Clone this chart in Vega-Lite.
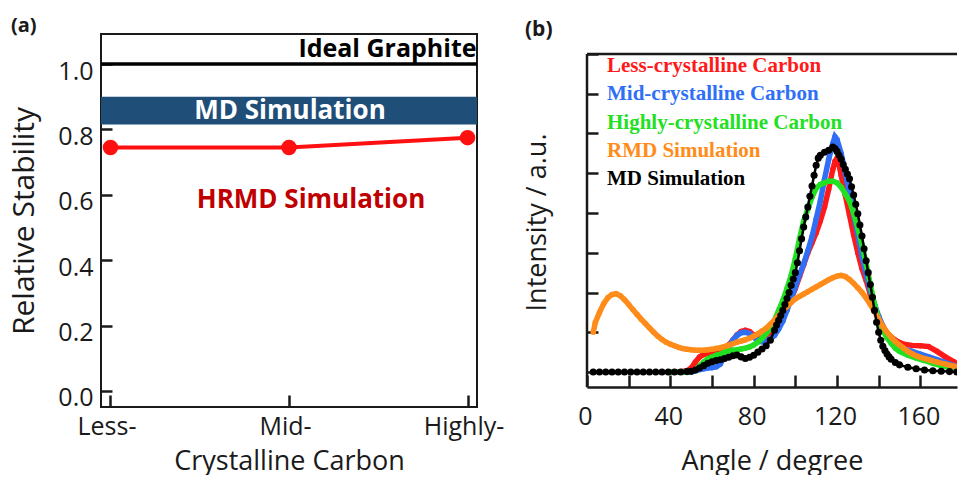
{
  "$schema": "https://vega.github.io/schema/vega-lite/v6.json",
  "background": "white",
  "padding": {"left": 8, "top": 15, "right": 0, "bottom": 0},
  "spacing": 110,
  "bounds": "flush",
  "config": {
    "view": {"stroke": null},
    "font": "Open Sans",
    "axis": {"labelFont": "Open Sans", "titleFont": "Open Sans", "labelColor": "#1a1a1a", "titleColor": "#1a1a1a", "titleFontWeight": "normal", "grid": false, "tickColor": "#1a1a1a", "domainColor": "#1a1a1a"}
  },
  "datasets": {
    "stability": [
      {"cat": "Less-", "v": 0.745},
      {"cat": "Mid-", "v": 0.745},
      {"cat": "Highly-", "v": 0.775}
    ],
    "xrd": [
      {"s":"L","a":40,"i":0},{"s":"L","a":44,"i":0},{"s":"L","a":48,"i":0.03},{"s":"L","a":50,"i":0.1},{"s":"L","a":52,"i":0.25},{"s":"L","a":54,"i":0.38},{"s":"L","a":56,"i":0.44},{"s":"L","a":58,"i":0.47},{"s":"L","a":60,"i":0.5},{"s":"L","a":62,"i":0.53},{"s":"L","a":64,"i":0.56},{"s":"L","a":66,"i":0.6},{"s":"L","a":68,"i":0.68},{"s":"L","a":70,"i":0.8},{"s":"L","a":72,"i":0.93},{"s":"L","a":74,"i":1.02},{"s":"L","a":76,"i":1.05},{"s":"L","a":78,"i":1.02},{"s":"L","a":80,"i":0.93},{"s":"L","a":82,"i":0.87},{"s":"L","a":84,"i":0.84},{"s":"L","a":86,"i":0.86},{"s":"L","a":88,"i":0.95},{"s":"L","a":90,"i":1.08},{"s":"L","a":92,"i":1.25},{"s":"L","a":94,"i":1.45},{"s":"L","a":96,"i":1.65},{"s":"L","a":98,"i":1.85},{"s":"L","a":100,"i":2.1},{"s":"L","a":102,"i":2.4},{"s":"L","a":104,"i":2.7},{"s":"L","a":106,"i":3.0},{"s":"L","a":108,"i":3.25},{"s":"L","a":110,"i":3.5},{"s":"L","a":112,"i":3.8},{"s":"L","a":114,"i":4.15},{"s":"L","a":116,"i":4.6},{"s":"L","a":118,"i":5.1},{"s":"L","a":119,"i":5.3},{"s":"L","a":120,"i":5.38},{"s":"L","a":121,"i":5.2},{"s":"L","a":122,"i":4.95},{"s":"L","a":124,"i":4.45},{"s":"L","a":126,"i":3.95},{"s":"L","a":128,"i":3.45},{"s":"L","a":130,"i":3.0},{"s":"L","a":132,"i":2.6},{"s":"L","a":134,"i":2.3},{"s":"L","a":136,"i":1.95},{"s":"L","a":138,"i":1.65},{"s":"L","a":140,"i":1.38},{"s":"L","a":142,"i":1.15},{"s":"L","a":144,"i":0.98},{"s":"L","a":146,"i":0.88},{"s":"L","a":148,"i":0.8},{"s":"L","a":150,"i":0.74},{"s":"L","a":152,"i":0.7},{"s":"L","a":156,"i":0.67},{"s":"L","a":160,"i":0.66},{"s":"L","a":164,"i":0.64},{"s":"L","a":168,"i":0.52},{"s":"L","a":172,"i":0.38},{"s":"L","a":176,"i":0.26},{"s":"L","a":177.5,"i":0.21},
      {"s":"M","a":40,"i":0},{"s":"M","a":46,"i":0},{"s":"M","a":50,"i":0},{"s":"M","a":52,"i":0.03},{"s":"M","a":54,"i":0.06},{"s":"M","a":56,"i":0.08},{"s":"M","a":58,"i":0.1},{"s":"M","a":60,"i":0.11},{"s":"M","a":62,"i":0.13},{"s":"M","a":64,"i":0.2},{"s":"M","a":66,"i":0.4},{"s":"M","a":68,"i":0.62},{"s":"M","a":70,"i":0.8},{"s":"M","a":72,"i":0.92},{"s":"M","a":74,"i":0.99},{"s":"M","a":76,"i":1.0},{"s":"M","a":78,"i":0.97},{"s":"M","a":80,"i":0.88},{"s":"M","a":82,"i":0.78},{"s":"M","a":84,"i":0.76},{"s":"M","a":86,"i":0.78},{"s":"M","a":88,"i":0.83},{"s":"M","a":90,"i":0.92},{"s":"M","a":92,"i":1.08},{"s":"M","a":94,"i":1.28},{"s":"M","a":96,"i":1.55},{"s":"M","a":98,"i":1.85},{"s":"M","a":100,"i":2.15},{"s":"M","a":102,"i":2.45},{"s":"M","a":104,"i":2.72},{"s":"M","a":106,"i":3.05},{"s":"M","a":108,"i":3.4},{"s":"M","a":110,"i":3.85},{"s":"M","a":112,"i":4.3},{"s":"M","a":114,"i":4.85},{"s":"M","a":116,"i":5.35},{"s":"M","a":118,"i":5.75},{"s":"M","a":119,"i":5.92},{"s":"M","a":120,"i":5.85},{"s":"M","a":122,"i":5.5},{"s":"M","a":124,"i":5.0},{"s":"M","a":126,"i":4.5},{"s":"M","a":128,"i":3.95},{"s":"M","a":130,"i":3.45},{"s":"M","a":132,"i":2.9},{"s":"M","a":134,"i":2.45},{"s":"M","a":136,"i":2.05},{"s":"M","a":138,"i":1.7},{"s":"M","a":140,"i":1.4},{"s":"M","a":142,"i":1.15},{"s":"M","a":144,"i":0.95},{"s":"M","a":146,"i":0.8},{"s":"M","a":148,"i":0.7},{"s":"M","a":150,"i":0.63},{"s":"M","a":152,"i":0.58},{"s":"M","a":156,"i":0.52},{"s":"M","a":160,"i":0.45},{"s":"M","a":164,"i":0.38},{"s":"M","a":168,"i":0.31},{"s":"M","a":172,"i":0.24},{"s":"M","a":176,"i":0.16},{"s":"M","a":177.5,"i":0.13},
      {"s":"H","a":40,"i":0},{"s":"H","a":46,"i":0},{"s":"H","a":50,"i":0.01},{"s":"H","a":52,"i":0.05},{"s":"H","a":54,"i":0.15},{"s":"H","a":56,"i":0.25},{"s":"H","a":58,"i":0.33},{"s":"H","a":60,"i":0.38},{"s":"H","a":62,"i":0.42},{"s":"H","a":64,"i":0.45},{"s":"H","a":66,"i":0.5},{"s":"H","a":68,"i":0.53},{"s":"H","a":70,"i":0.55},{"s":"H","a":72,"i":0.56},{"s":"H","a":74,"i":0.58},{"s":"H","a":76,"i":0.6},{"s":"H","a":78,"i":0.63},{"s":"H","a":80,"i":0.68},{"s":"H","a":82,"i":0.75},{"s":"H","a":84,"i":0.85},{"s":"H","a":86,"i":0.97},{"s":"H","a":88,"i":1.1},{"s":"H","a":90,"i":1.3},{"s":"H","a":92,"i":1.55},{"s":"H","a":94,"i":1.8},{"s":"H","a":96,"i":2.1},{"s":"H","a":98,"i":2.43},{"s":"H","a":100,"i":2.85},{"s":"H","a":102,"i":3.35},{"s":"H","a":104,"i":3.8},{"s":"H","a":106,"i":4.1},{"s":"H","a":108,"i":4.4},{"s":"H","a":110,"i":4.62},{"s":"H","a":112,"i":4.72},{"s":"H","a":114,"i":4.76},{"s":"H","a":116,"i":4.8},{"s":"H","a":118,"i":4.8},{"s":"H","a":120,"i":4.76},{"s":"H","a":122,"i":4.65},{"s":"H","a":124,"i":4.48},{"s":"H","a":126,"i":4.3},{"s":"H","a":128,"i":4.0},{"s":"H","a":130,"i":3.62},{"s":"H","a":132,"i":3.2},{"s":"H","a":134,"i":2.72},{"s":"H","a":136,"i":2.2},{"s":"H","a":138,"i":1.7},{"s":"H","a":140,"i":1.32},{"s":"H","a":142,"i":1.05},{"s":"H","a":144,"i":0.86},{"s":"H","a":146,"i":0.72},{"s":"H","a":148,"i":0.6},{"s":"H","a":150,"i":0.52},{"s":"H","a":154,"i":0.42},{"s":"H","a":158,"i":0.35},{"s":"H","a":162,"i":0.29},{"s":"H","a":166,"i":0.22},{"s":"H","a":170,"i":0.16},{"s":"H","a":174,"i":0.11},{"s":"H","a":177.5,"i":0.08},
      {"s":"R","a":3,"i":1.0},{"s":"R","a":4,"i":1.25},{"s":"R","a":6,"i":1.5},{"s":"R","a":8,"i":1.72},{"s":"R","a":10,"i":1.87},{"s":"R","a":12,"i":1.95},{"s":"R","a":14,"i":1.97},{"s":"R","a":16,"i":1.92},{"s":"R","a":18,"i":1.82},{"s":"R","a":20,"i":1.7},{"s":"R","a":22,"i":1.57},{"s":"R","a":24,"i":1.45},{"s":"R","a":26,"i":1.33},{"s":"R","a":28,"i":1.22},{"s":"R","a":30,"i":1.11},{"s":"R","a":32,"i":1.0},{"s":"R","a":34,"i":0.9},{"s":"R","a":36,"i":0.82},{"s":"R","a":38,"i":0.75},{"s":"R","a":40,"i":0.7},{"s":"R","a":42,"i":0.66},{"s":"R","a":44,"i":0.62},{"s":"R","a":46,"i":0.59},{"s":"R","a":48,"i":0.57},{"s":"R","a":50,"i":0.56},{"s":"R","a":52,"i":0.55},{"s":"R","a":54,"i":0.55},{"s":"R","a":56,"i":0.55},{"s":"R","a":58,"i":0.56},{"s":"R","a":60,"i":0.57},{"s":"R","a":62,"i":0.59},{"s":"R","a":64,"i":0.61},{"s":"R","a":66,"i":0.64},{"s":"R","a":68,"i":0.67},{"s":"R","a":70,"i":0.71},{"s":"R","a":72,"i":0.75},{"s":"R","a":74,"i":0.78},{"s":"R","a":76,"i":0.81},{"s":"R","a":78,"i":0.85},{"s":"R","a":80,"i":0.9},{"s":"R","a":82,"i":0.96},{"s":"R","a":84,"i":1.03},{"s":"R","a":86,"i":1.1},{"s":"R","a":88,"i":1.2},{"s":"R","a":90,"i":1.3},{"s":"R","a":92,"i":1.42},{"s":"R","a":94,"i":1.54},{"s":"R","a":96,"i":1.65},{"s":"R","a":98,"i":1.75},{"s":"R","a":100,"i":1.84},{"s":"R","a":102,"i":1.9},{"s":"R","a":104,"i":1.96},{"s":"R","a":106,"i":2.02},{"s":"R","a":108,"i":2.08},{"s":"R","a":110,"i":2.14},{"s":"R","a":112,"i":2.2},{"s":"R","a":114,"i":2.26},{"s":"R","a":116,"i":2.32},{"s":"R","a":118,"i":2.37},{"s":"R","a":120,"i":2.41},{"s":"R","a":122,"i":2.43},{"s":"R","a":124,"i":2.4},{"s":"R","a":126,"i":2.33},{"s":"R","a":128,"i":2.23},{"s":"R","a":130,"i":2.12},{"s":"R","a":132,"i":2.0},{"s":"R","a":134,"i":1.86},{"s":"R","a":136,"i":1.7},{"s":"R","a":138,"i":1.52},{"s":"R","a":140,"i":1.33},{"s":"R","a":142,"i":1.15},{"s":"R","a":144,"i":1.0},{"s":"R","a":146,"i":0.88},{"s":"R","a":148,"i":0.77},{"s":"R","a":150,"i":0.68},{"s":"R","a":152,"i":0.6},{"s":"R","a":154,"i":0.52},{"s":"R","a":156,"i":0.46},{"s":"R","a":158,"i":0.41},{"s":"R","a":160,"i":0.37},{"s":"R","a":164,"i":0.31},{"s":"R","a":168,"i":0.25},{"s":"R","a":172,"i":0.2},{"s":"R","a":176,"i":0.15},{"s":"R","a":177.5,"i":0.13},
      {"s":"D","a":3,"i":0},{"s":"D","a":6,"i":0},{"s":"D","a":9,"i":0},{"s":"D","a":12,"i":0},{"s":"D","a":15,"i":0},{"s":"D","a":18,"i":0},{"s":"D","a":21,"i":0},{"s":"D","a":24,"i":0},{"s":"D","a":27,"i":0},{"s":"D","a":30,"i":0},{"s":"D","a":33,"i":0},{"s":"D","a":36,"i":0},{"s":"D","a":39,"i":0},{"s":"D","a":42,"i":0},{"s":"D","a":45,"i":0},{"s":"D","a":48,"i":0.01},{"s":"D","a":50,"i":0.02},{"s":"D","a":52,"i":0.05},{"s":"D","a":54,"i":0.1},{"s":"D","a":56,"i":0.16},{"s":"D","a":58,"i":0.22},{"s":"D","a":60,"i":0.26},{"s":"D","a":62,"i":0.29},{"s":"D","a":64,"i":0.31},{"s":"D","a":66,"i":0.34},{"s":"D","a":68,"i":0.37},{"s":"D","a":70,"i":0.41},{"s":"D","a":72,"i":0.43},{"s":"D","a":74,"i":0.38},{"s":"D","a":76,"i":0.34},{"s":"D","a":78,"i":0.37},{"s":"D","a":80,"i":0.42},{"s":"D","a":82,"i":0.5},{"s":"D","a":84,"i":0.58},{"s":"D","a":86,"i":0.66},{"s":"D","a":88,"i":0.8},{"s":"D","a":90,"i":1.05},{"s":"D","a":91,"i":1.18},{"s":"D","a":92,"i":1.3},{"s":"D","a":93,"i":1.42},{"s":"D","a":94,"i":1.55},{"s":"D","a":95,"i":1.7},{"s":"D","a":96,"i":1.85},{"s":"D","a":97,"i":2.0},{"s":"D","a":98,"i":2.18},{"s":"D","a":99,"i":2.34},{"s":"D","a":100,"i":2.5},{"s":"D","a":101,"i":2.75},{"s":"D","a":102,"i":3.05},{"s":"D","a":103,"i":3.35},{"s":"D","a":104,"i":3.65},{"s":"D","a":105,"i":3.9},{"s":"D","a":106,"i":4.15},{"s":"D","a":107,"i":4.42},{"s":"D","a":108,"i":4.68},{"s":"D","a":109,"i":4.95},{"s":"D","a":110,"i":5.2},{"s":"D","a":111,"i":5.38},{"s":"D","a":112,"i":5.45},{"s":"D","a":114,"i":5.53},{"s":"D","a":116,"i":5.58},{"s":"D","a":118,"i":5.66},{"s":"D","a":119,"i":5.62},{"s":"D","a":120,"i":5.55},{"s":"D","a":121,"i":5.45},{"s":"D","a":122,"i":5.35},{"s":"D","a":123,"i":5.22},{"s":"D","a":124,"i":5.1},{"s":"D","a":125,"i":4.98},{"s":"D","a":126,"i":4.86},{"s":"D","a":127,"i":4.66},{"s":"D","a":128,"i":4.45},{"s":"D","a":129,"i":4.22},{"s":"D","a":130,"i":3.98},{"s":"D","a":131,"i":3.7},{"s":"D","a":132,"i":3.42},{"s":"D","a":133,"i":3.1},{"s":"D","a":134,"i":2.8},{"s":"D","a":135,"i":2.5},{"s":"D","a":136,"i":2.2},{"s":"D","a":137,"i":1.88},{"s":"D","a":138,"i":1.55},{"s":"D","a":139,"i":1.25},{"s":"D","a":140,"i":1.0},{"s":"D","a":141,"i":0.8},{"s":"D","a":142,"i":0.65},{"s":"D","a":143,"i":0.54},{"s":"D","a":144,"i":0.45},{"s":"D","a":145,"i":0.38},{"s":"D","a":146,"i":0.32},{"s":"D","a":148,"i":0.24},{"s":"D","a":150,"i":0.18},{"s":"D","a":154,"i":0.12},{"s":"D","a":158,"i":0.08},{"s":"D","a":162,"i":0.05},{"s":"D","a":166,"i":0.03},{"s":"D","a":170,"i":0.02},{"s":"D","a":174,"i":0.01},{"s":"D","a":177.5,"i":0}
    ],
    "legendText": [
      {"s": "L", "label": "Less-crystalline Carbon", "a": 9.6, "i": 7.55},
      {"s": "M", "label": "Mid-crystalline Carbon", "a": 9.6, "i": 6.84},
      {"s": "H", "label": "Highly-crystalline Carbon", "a": 9.6, "i": 6.11},
      {"s": "R", "label": "RMD Simulation", "a": 9.6, "i": 5.41},
      {"s": "D", "label": "MD Simulation", "a": 9.6, "i": 4.7}
    ]
  },
  "hconcat": [
    {
      "width": 376,
      "height": 373,
      "title": {"text": "(a)", "anchor": "start", "frame": "group", "dx": -90, "offset": -18, "baseline": "alphabetic", "fontSize": 20, "fontWeight": "bold", "font": "Open Sans", "color": "#1a1a1a"},
      "view": {"stroke": "#1a1a1a", "strokeWidth": 2},
      "layer": [
        {
          "data": {"values": [{"v": 0.815, "v2": 0.9}]},
          "mark": {"type": "rect", "color": "#1f4e79"},
          "encoding": {
            "y": {"field": "v", "type": "quantitative", "scale": {"domain": [-0.049, 1.092], "nice": false, "zero": false},
              "axis": {"values": [0, 0.2, 0.4, 0.6, 0.8, 1.0], "format": ".1f", "title": "Relative Stability", "titleFontSize": 30, "labelFontSize": 25, "labelPadding": 19, "labelOffset": 7, "tickSize": -11, "tickWidth": 2.5, "domain": false, "titlePadding": 18}},
            "y2": {"field": "v2"}
          }
        },
        {
          "data": {"values": [{"v": 1.0}]},
          "mark": {"type": "rule", "color": "#000000", "strokeWidth": 3.5},
          "encoding": {"y": {"field": "v", "type": "quantitative"}}
        },
        {
          "data": {"name": "stability"},
          "mark": {"type": "line", "color": "#ff1010", "strokeWidth": 4, "point": {"filled": true, "size": 240, "color": "#ff1010"}},
          "encoding": {
            "x": {"field": "cat", "type": "ordinal", "scale": {"type": "point", "domain": ["Less-", "Mid-", "Highly-"], "padding": 0.053},
              "axis": {"title": "Crystalline Carbon", "titleFontSize": 27, "titlePadding": 9, "labelFontSize": 25, "labelPadding": 19, "labelOffset": -4, "labelAngle": 0, "tickSize": -12, "tickWidth": 2.5, "domain": false}},
            "y": {"field": "v", "type": "quantitative"}
          }
        },
        {
          "data": {"values": [{"cat": "Highly-", "v": 1.021, "label": "Ideal Graphite"}]},
          "mark": {"type": "text", "align": "right", "baseline": "alphabetic", "dx": 9, "fontSize": 25, "fontWeight": "bold", "font": "Open Sans", "color": "#000000"},
          "encoding": {"x": {"field": "cat", "type": "ordinal"}, "y": {"field": "v", "type": "quantitative"}, "text": {"field": "label", "type": "nominal"}}
        },
        {
          "data": {"values": [{"cat": "Mid-", "v": 0.857, "label": "MD Simulation"}]},
          "mark": {"type": "text", "align": "center", "baseline": "middle", "dx": 1, "fontSize": 26, "fontWeight": "bold", "font": "Open Sans", "color": "#ffffff"},
          "encoding": {"x": {"field": "cat", "type": "ordinal"}, "y": {"field": "v", "type": "quantitative"}, "text": {"field": "label", "type": "nominal"}}
        },
        {
          "data": {"values": [{"cat": "Mid-", "v": 0.585, "label": "HRMD Simulation"}]},
          "mark": {"type": "text", "align": "center", "baseline": "middle", "dx": 22, "fontSize": 26, "fontWeight": "bold", "font": "Open Sans", "color": "#c00000"},
          "encoding": {"x": {"field": "cat", "type": "ordinal"}, "y": {"field": "v", "type": "quantitative"}, "text": {"field": "label", "type": "nominal"}}
        }
      ]
    },
    {
      "width": 370,
      "height": 353,
      "title": {"text": "(b)", "anchor": "start", "frame": "group", "dx": -62, "offset": -23, "baseline": "alphabetic", "fontSize": 21, "fontWeight": "bold", "font": "Open Sans", "color": "#1a1a1a"},
      "layer": [
        {
          "data": {"values": [{"i": 8}]},
          "mark": {"type": "rule", "color": "#1a1a1a", "strokeWidth": 2.5},
          "encoding": {"y": {"field": "i", "type": "quantitative", "scale": {"domain": [-0.377, 8.503], "nice": false, "zero": false},
            "axis": {"values": [0, 1, 2, 3, 4, 5, 6, 7, 8], "labels": false, "title": "Intensity / a.u.", "titleFontSize": 27, "titlePadding": 34, "titleY": 188, "tickSize": -11, "tickWidth": 2.5, "domain": false}}}
        },
        {
          "data": {"values": [{"a": 0, "i": -0.377, "i2": 8}]},
          "mark": {"type": "rule", "color": "#1a1a1a", "strokeWidth": 2.5},
          "encoding": {"x": {"field": "a", "type": "quantitative"}, "y": {"field": "i", "type": "quantitative"}, "y2": {"field": "i2"}}
        },
        {
          "data": {"name": "xrd"},
          "transform": [{"filter": "datum.s === 'L'"}],
          "mark": {"type": "line", "strokeWidth": 5.5, "clip": true, "point": {"filled": true, "size": 30}},
          "encoding": {
            "x": {"field": "a", "type": "quantitative", "scale": {"domain": [0, 177.6], "nice": false, "zero": false},
              "axis": {"values": [0, 20, 40, 60, 80, 100, 120, 140, 160], "labelExpr": "datum.value % 40 === 0 ? datum.label : ''", "labelFlush": false, "labelOffset": -2, "title": "Angle / degree", "titleFontSize": 27, "titlePadding": 19, "labelFontSize": 25, "labelPadding": 29, "tickSize": -12, "tickWidth": 2.5, "domainWidth": 2.5}},
            "y": {"field": "i", "type": "quantitative"},
            "color": {"field": "s", "type": "nominal", "scale": {"domain": ["L", "M", "H", "R", "D"], "range": ["#ff1a1a", "#2f6ff5", "#22e022", "#ff8c1a", "#000000"]}, "legend": null}
          }
        },
        {
          "data": {"name": "xrd"},
          "transform": [{"filter": "datum.s === 'M'"}],
          "mark": {"type": "line", "strokeWidth": 5.5, "clip": true, "point": {"filled": true, "size": 30}},
          "encoding": {"x": {"field": "a", "type": "quantitative"}, "y": {"field": "i", "type": "quantitative"}, "color": {"field": "s", "type": "nominal", "legend": null}}
        },
        {
          "data": {"name": "xrd"},
          "transform": [{"filter": "datum.s === 'H'"}],
          "mark": {"type": "line", "strokeWidth": 5.5, "clip": true, "point": {"filled": true, "size": 30}},
          "encoding": {"x": {"field": "a", "type": "quantitative"}, "y": {"field": "i", "type": "quantitative"}, "color": {"field": "s", "type": "nominal", "legend": null}}
        },
        {
          "data": {"name": "xrd"},
          "transform": [{"filter": "datum.s === 'R'"}],
          "mark": {"type": "line", "strokeWidth": 5.5, "clip": true, "point": {"filled": true, "size": 30}},
          "encoding": {"x": {"field": "a", "type": "quantitative"}, "y": {"field": "i", "type": "quantitative"}, "color": {"field": "s", "type": "nominal", "legend": null}}
        },
        {
          "data": {"name": "xrd"},
          "transform": [{"filter": "datum.s === 'D'"}],
          "mark": {"type": "line", "strokeWidth": 2.5, "clip": true, "point": {"filled": true, "size": 50}},
          "encoding": {"x": {"field": "a", "type": "quantitative"}, "y": {"field": "i", "type": "quantitative"}, "color": {"field": "s", "type": "nominal", "legend": null}}
        },
        {
          "data": {"name": "legendText"},
          "mark": {"type": "text", "align": "left", "baseline": "alphabetic", "font": "Liberation Serif", "fontWeight": "bold", "fontSize": 21},
          "encoding": {"x": {"field": "a", "type": "quantitative"}, "y": {"field": "i", "type": "quantitative"}, "text": {"field": "label", "type": "nominal"}, "color": {"field": "s", "type": "nominal", "legend": null}}
        }
      ]
    }
  ]
}
